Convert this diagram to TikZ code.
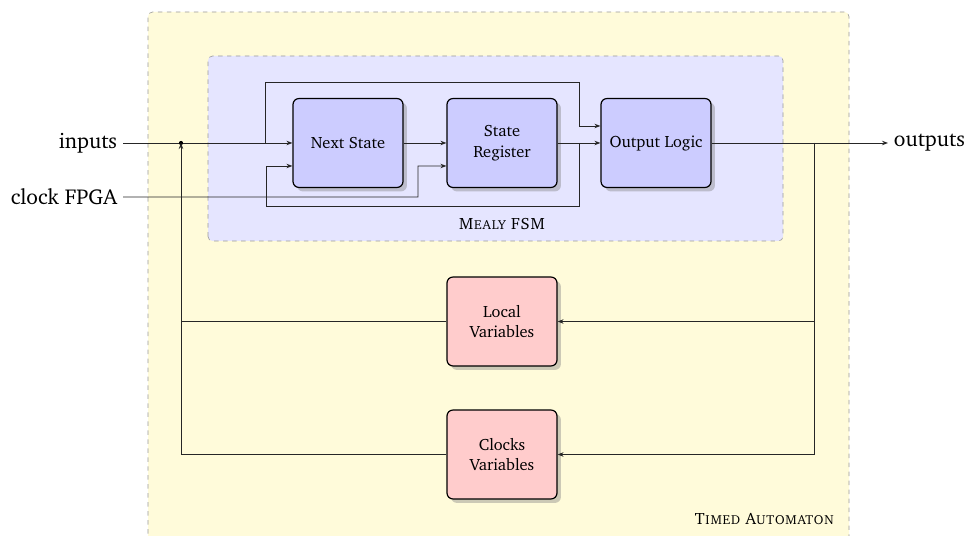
\documentclass[11pt,tikz,border=0pt]{standalone}
\usepackage[T1]{fontenc}
\usepackage{charter}
\usepackage{tikz}
\usetikzlibrary{arrows.meta, shadows, calc}
\definecolor{outercol}{RGB}{255,251,218}
\colorlet{fsmcol}{blue!10}
\colorlet{blockcol}{blue!20}
\colorlet{varcol}{red!20}
\colorlet{framecol}{black!40}
\colorlet{wirecol}{black!85}
\tikzset{
  block/.style={draw, thick, fill=blockcol, rounded corners=4pt,
    minimum width=2.585cm, minimum height=2.09cm, align=center,
    drop shadow={opacity=0.4}},
  varblock/.style={block, fill=varcol},
  region/.style={draw=framecol, dashed, thin, rounded corners=3pt},
  iolabel/.style={font=\Large}
}

\begin{document}
\begin{tikzpicture}[x=0.47cm, y=0.47cm, semithick, >={Stealth[length=4pt, width=3pt]}]

  \useasboundingbox (0,0) rectangle (48.25,26.8);

  % Regions.
  \draw[region, fill=outercol] (7.4,-1) rectangle (42.45,26.2);
  \node[anchor=east, font=\scshape] (ta) at (42.0,0.85) {Timed Automaton};
  \draw[region, fill=fsmcol] (10.4,14.75) rectangle (39.15,24.0);
  \node[font=\scshape] (mealy) at (25.1,15.6) {Mealy FSM};

  % Blocks.
  \node[block] (ns) at (17.4,19.65) {Next State};
  \node[block] (sr) at (25.1,19.65) {State\\Register};
  \node[block] (ol) at (32.8,19.65) {Output Logic};
  \node[varblock] (lv) at (25.1,10.725) {Local\\Variables};
  \node[varblock] (cv) at (25.1,4.075) {Clocks\\Variables};

  % Inputs and outputs.
  \node[iolabel, anchor=east] (inputs) at (6.15,19.65) {inputs};
  \node[iolabel, anchor=east] (clk) at (6.15,16.95) {clock FPGA};
  \node[iolabel, anchor=west] (outputs) at (44.4,19.65) {outputs};

  \coordinate (junc) at (9.05,19.65);
  \coordinate (tap) at (13.25,19.65);
  \coordinate (fb) at (28.95,19.65);
  \coordinate (split) at (40.7,19.65);

  % Wires in the FSM.
  \draw[->, wirecol] (inputs) -- (ns);
  \fill (junc) circle (1.4pt);
  \draw[->, wirecol] (tap) |- (28.95,22.7) |- ($(ol.west)+(0,0.85)$);
  \draw[->, wirecol] (clk) -| (20.9,18.5) -- ($(sr.west)+(0,-1.15)$);
  \draw[->, wirecol] (ns) -- (sr);
  \draw[->, wirecol] (sr) -- (ol);
  \draw[->, wirecol] (fb) |- (13.3,16.5) |- ($(ns.west)+(0,-1.15)$);
  \draw[->, wirecol] (ol) -- (outputs);

  % Feedback through the variables.
  \draw[->, wirecol] (split) |- (lv);
  \draw[->, wirecol] (split) |- (cv);
  \draw[wirecol] (lv) -- (lv.west -| junc);
  \draw[->, wirecol] (cv) -| (junc);

\end{tikzpicture}
\end{document}
